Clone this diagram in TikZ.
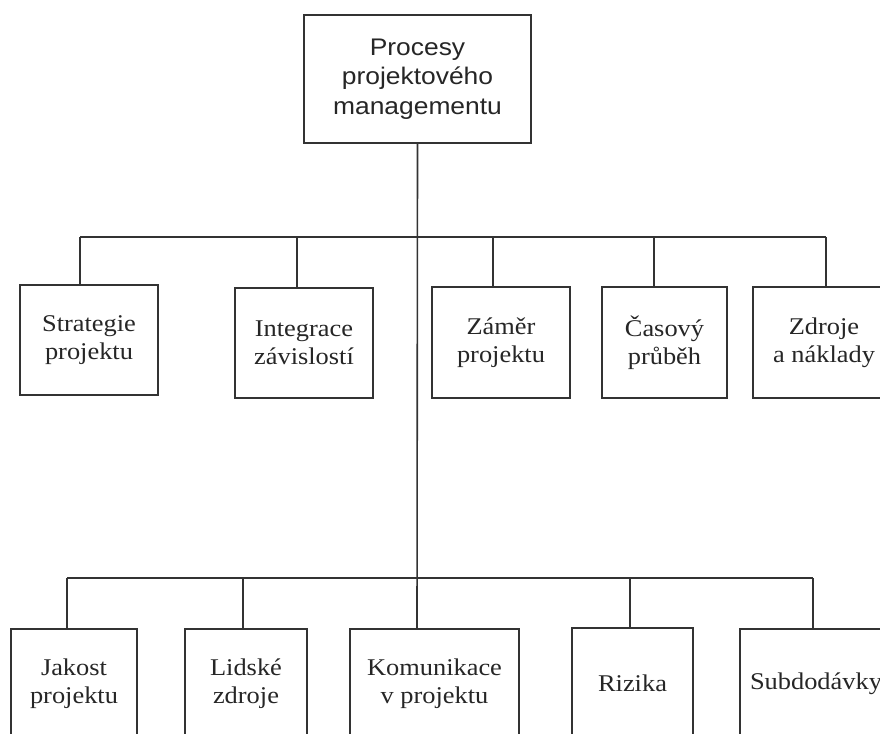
\documentclass[tikz,border=0pt]{standalone}
\usepackage{fontspec}
\setmainfont{Liberation Serif}[FakeStretch=1.1]
\newfontfamily\headfont{Liberation Sans}[FakeStretch=1.1]
\begin{document}
\begin{tikzpicture}[x=1pt,y=-1pt,
  ink/.style={black!85},
  box/.style={draw=black!80, line width=1.6pt, text=black!85, align=center,
    inner sep=0pt, font=\fontsize{24}{28}\selectfont},
  headbox/.style={box, font=\headfont\fontsize{24}{29.5}\selectfont},
  link/.style={draw=black!80, line width=1.6pt}]
\clip (0,0) rectangle (880,733);
\fill[white] (0,0) rectangle (880,733);

% root
\node[headbox, minimum width=227pt, minimum height=128pt] (top) at (417.5,79)
  {Procesy\\projektového\\managementu};

% first row
\node[box, minimum width=138pt, minimum height=110pt] (s1) at (89,340)   {Strategie\\projektu};
\node[box, minimum width=138pt, minimum height=110pt] (s2) at (304,343)  {Integrace\\závislostí};
\node[box, minimum width=138pt, minimum height=111pt] (s3) at (501,342.5){Záměr\\projektu};
\node[box, minimum width=125pt, minimum height=111pt] (s4) at (664.5,342.5){Časový\\průběh};
\node[box, minimum width=142pt, minimum height=111pt] (s5) at (824,342.5){Zdroje\\a náklady};

% second row
\node[box, minimum width=126pt, minimum height=110pt] (b1) at (74,684)   {Jakost\\projektu};
\node[box, minimum width=122pt, minimum height=110pt] (b2) at (246,684)  {Lidské\\zdroje};
\node[box, minimum width=169pt, minimum height=110pt] (b3) at (434.5,684){Komunikace\\v projektu};
\node[box, minimum width=121pt, minimum height=110pt] (b4) at (632.5,683){Rizika};
\node[box, minimum width=152pt, minimum height=110pt] (b5) at (816,684)  {Subdodávky};

% bus lines
\coordinate (bus1) at (417,237);
\coordinate (bus2) at (417,578);

% stem points on each box top
\coordinate (p1) at ([xshift=-9pt]s1.north);
\coordinate (p2) at ([xshift=-7pt]s2.north);
\coordinate (p3) at ([xshift=-8pt]s3.north);
\coordinate (p4) at ([xshift=-10.5pt]s4.north);
\coordinate (p5) at ([xshift=2pt]s5.north);
\coordinate (q1) at ([xshift=-7pt]b1.north);
\coordinate (q2) at ([xshift=-3pt]b2.north);
\coordinate (q3) at ([xshift=-17.5pt]b3.north);
\coordinate (q4) at ([xshift=-2.5pt]b4.north);
\coordinate (q5) at ([xshift=-3pt]b5.north);

% trunk
\draw[link] (top.south) -- (q3);

% upper bus and stems
\draw[link] (p1 |- bus1) -- (p5 |- bus1);
\foreach \p in {p1,p2,p3,p4,p5}
  \draw[link] (\p |- bus1) -- (\p);

% lower bus and stems
\draw[link] (q1 |- bus2) -- (q5 |- bus2);
\foreach \q in {q1,q2,q4,q5}
  \draw[link] (\q |- bus2) -- (\q);
\end{tikzpicture}
\end{document}
